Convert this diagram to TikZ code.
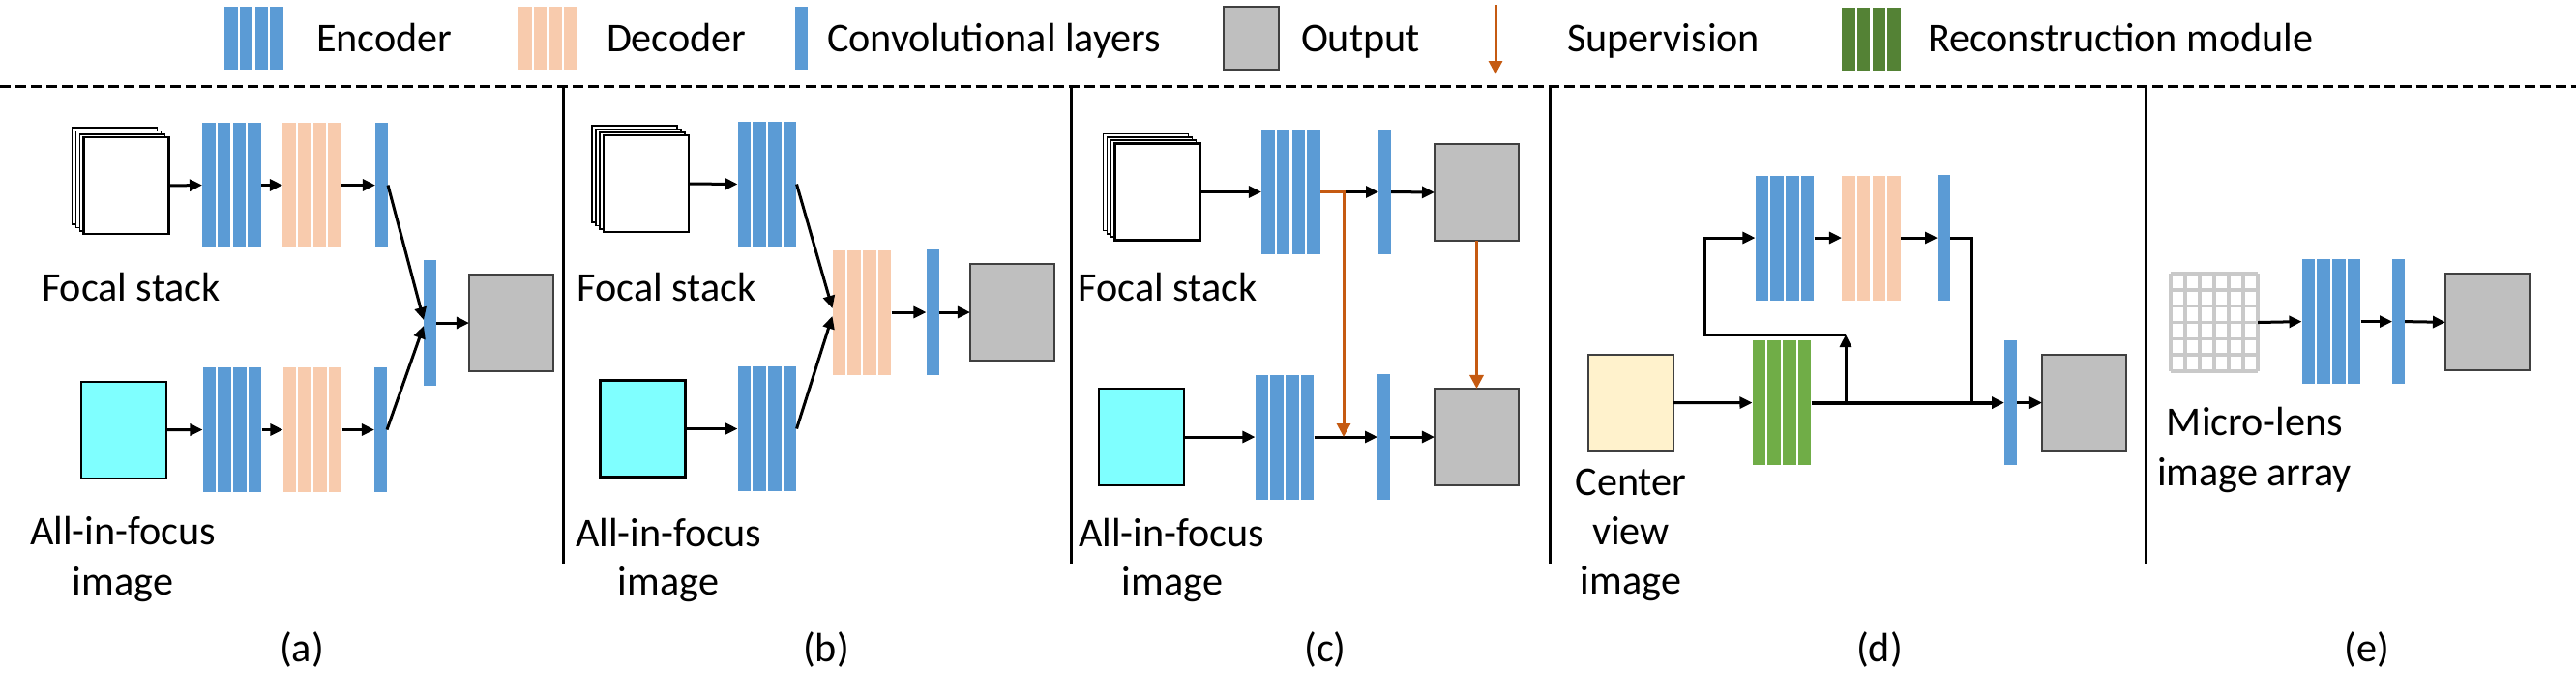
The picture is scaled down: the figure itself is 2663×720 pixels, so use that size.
\documentclass[tikz,border=0pt]{standalone}
\usepackage{fontspec}
\setmainfont{Carlito}
\usetikzlibrary{arrows.meta}
\definecolor{encb}{HTML}{5B9BD5}
\definecolor{decp}{HTML}{F8CBAD}
\definecolor{greend}{HTML}{548235}
\definecolor{greenb}{HTML}{70AD47}
\definecolor{outg}{HTML}{BFBFBF}
\definecolor{outd}{HTML}{404040}
\definecolor{cyanf}{HTML}{7FFFFF}
\definecolor{beigef}{HTML}{FFF2CC}
\definecolor{suporange}{HTML}{C55A11}
\definecolor{gridg}{HTML}{C9C9C9}
\tikzset{
  box/.style={inner sep=0pt, outer sep=0pt},
  conv/.style={box, fill=encb, minimum width=0.13cm, minimum height=1.29cm},
  outbox/.style={box, fill=outg, draw=outd, line width=0.6pt, minimum width=0.87cm, minimum height=1.0cm},
  sheet/.style={box, fill=white, draw=black, line width=0.6pt, minimum width=0.88cm, minimum height=1.0cm},
  cyanbox/.style={box, fill=cyanf, draw=black, line width=0.6pt, minimum width=0.88cm, minimum height=1.0cm},
  beigebox/.style={box, fill=beigef, draw=outd, line width=0.6pt, minimum width=0.88cm, minimum height=1.0cm},
  arr/.style={-{Triangle[length=0.13cm,width=0.12cm]}, line width=0.03cm, black},
  suparr/.style={-{Triangle[length=0.14cm,width=0.14cm]}, line width=0.03cm, suporange},
  plainline/.style={line width=0.03cm, black},
  divider/.style={line width=0.03cm, black},
  txt/.style={inner sep=0pt, outer sep=0pt, font=\fontsize{12pt}{14pt}\selectfont},
}
\newcommand\mymod[5]{%
  \node[box, minimum width=0.61cm, minimum height=#5*0.01cm] (#1) at (#2,#3) {};
  \foreach \k in {0,1,2,3}{\fill[#4] ({#2-30.5+\k*15.8},{#3-#5/2}) rectangle ++(13.5,#5);}
}
\newcommand\mystack[3]{%
  \foreach \k in {3,2,1}{\filldraw[fill=white,draw=black,line width=0.5pt] ({#2-44-4*\k},{#3-50-3.3*\k}) rectangle ++(88,100);}
  \node[sheet] (#1) at (#2,#3) {};
}
\begin{document}
\begin{tikzpicture}[x=0.01cm,y=-0.01cm]
\useasboundingbox (0,0) rectangle (2663,720);
% ---------- legend ----------
\mymod{le}{262.5}{39.5}{encb}{65}
\node[txt, anchor=base west] (lte) at (327,53) {Encoder};
\mymod{ld}{566.5}{39.5}{decp}{65}
\node[txt, anchor=base west] (ltd) at (627,53) {Decoder};
\node[conv, minimum height=0.65cm] (lc) at (828,39.5) {};
\node[txt, anchor=base west] (ltc) at (855,53) {Convolutional layers};
\node[outbox, minimum width=0.57cm, minimum height=0.65cm] (lo) at (1293.5,39.5) {};
\node[txt, anchor=base west] (lto) at (1345,53) {Output};
\coordinate (ls1) at (1546,5);
\coordinate (ls2) at (1546,77);
\draw[suparr] (ls1) -- (ls2);
\node[txt, anchor=base west] (lts) at (1620,53) {Supervision};
\mymod{lg}{1934.5}{40}{greend}{65}
\node[txt, anchor=base west] (ltg) at (1993,53) {Reconstruction module};
% ---------- separators ----------
\draw[line width=0.03cm, dash pattern=on 0.11cm off 0.05cm] (0,89) -- (2663,89);
\draw[divider] (582,89) -- (582,583);
\draw[divider] (1107,89) -- (1107,583);
\draw[divider] (1602,89) -- (1602,583);
\draw[divider] (2218,89) -- (2218,583);
% ---------- (a) ----------
\mystack{as}{130.5}{192}
\mymod{ae1}{239.5}{191.5}{encb}{129}
\mymod{ad1}{322.5}{191.5}{decp}{129}
\node[conv] (ac1) at (394.5,191.5) {};
\node[conv] (acm) at (444.5,334) {};
\node[outbox] (ao) at (528.5,334) {};
\node[cyanbox] (ai) at (128,444.6) {};
\mymod{ae2}{240}{444.5}{encb}{129}
\mymod{ad2}{323}{444.5}{decp}{129}
\node[conv] (ac2) at (393.5,444.5) {};
\draw[arr] (as.east) -- (ae1.west);
\draw[arr] (ae1.east) -- (ad1.west);
\draw[arr] (ad1.east) -- (ac1.west);
\draw[arr] (ai.east) -- (ae2.west);
\draw[arr] (ae2.east) -- (ad2.west);
\draw[arr] (ad2.east) -- (ac2.west);
\draw[arr] (ac1.east) -- ([yshift=0.03cm]acm.west);
\draw[arr] (ac2.east) -- ([yshift=-0.03cm]acm.west);
\draw[arr] (acm.east) -- (ao.west);
\node[txt, anchor=base] (at1) at (135.5,311) {Focal stack};
\node[txt, anchor=base] (at2) at (127,563) {All-in-focus};
\node[txt, anchor=base] (at3) at (127,615) {image};
\node[txt, anchor=base] (al) at (312,684) {(a)};
% ---------- (b) ----------
\mystack{bs}{668}{190}
\mymod{be1}{793}{190.5}{encb}{129}
\node[cyanbox] (bi) at (664.5,443.5) {};
\mymod{be2}{793}{443.5}{encb}{129}
\mymod{bd}{891}{323}{decp}{129}
\node[conv] (bc) at (964,323) {};
\node[outbox] (bo) at (1046.5,323) {};
\draw[arr] (bs.east) -- (be1.west);
\draw[arr] (bi.east) -- (be2.west);
\draw[arr] (be1.east) -- ([yshift=0.04cm]bd.west);
\draw[arr] (be2.east) -- ([yshift=-0.04cm]bd.west);
\draw[arr] (bd.east) -- (bc.west);
\draw[arr] (bc.east) -- (bo.west);
\node[txt, anchor=base] (bt1) at (689,311) {Focal stack};
\node[txt, anchor=base] (bt2) at (691,565) {All-in-focus};
\node[txt, anchor=base] (bt3) at (691,615) {image};
\node[txt, anchor=base] (bl) at (854,684) {(b)};
% ---------- (c) ----------
\mystack{cs}{1196.5}{198.5}
\mymod{ce1}{1334.5}{198.5}{encb}{129}
\node[conv] (cc1) at (1431.5,198.5) {};
\node[outbox] (co1) at (1526.5,199) {};
\node[cyanbox] (ci) at (1180,452) {};
\mymod{ce2}{1328}{452}{encb}{129}
\node[conv] (cc2) at (1430.5,452) {};
\node[outbox] (co2) at (1526.5,452) {};
\coordinate (cj) at (1389,452);
\draw[arr] (cs.east) -- (ce1.west);
\draw[arr] (ce1.east) -- (cc1.west);
\draw[arr] (cc1.east) -- (co1.west);
\draw[arr] (ci.east) -- (ce2.west);
\draw[arr] (ce2.east) -- (cc2.west);
\draw[arr] (cc2.east) -- (co2.west);
\draw[suparr] (ce1.east) -| (cj);
\draw[suparr] (co1.south) -- (co2.north);
\node[txt, anchor=base] (ct1) at (1207,311) {Focal stack};
\node[txt, anchor=base] (ct2) at (1211,565) {All-in-focus};
\node[txt, anchor=base] (ct3) at (1212,615) {image};
\node[txt, anchor=base] (cl) at (1370,684) {(c)};
% ---------- (d) ----------
\mymod{de}{1845}{246}{encb}{129}
\mymod{dd}{1934.5}{246}{decp}{129}
\node[conv] (dc1) at (2009.5,246) {};
\node[beigebox] (di) at (1686,416.7) {};
\mymod{dg}{1842}{416.6}{greenb}{129}
\node[conv] (dc2) at (2078.5,416.6) {};
\node[outbox] (do) at (2154.5,416.6) {};
\coordinate (dj1) at (1908,416.6);
\coordinate (dj2) at (1908,346);
\coordinate (dj3) at (1762,346);
\coordinate (dj4) at (2038,416.6);
\draw[arr] (di.east) -- (dg.west);
\draw[arr, line width=0.04cm] (dg.east) -- (dc2.west);
\draw[arr] (dj1) -- (dj2);
\draw[arr] (dj2) -- (dj3) |- (de.west);
\draw[arr] (de.east) -- (dd.west);
\draw[arr] (dd.east) -- (dc1.west);
\draw[plainline] (dc1.east) -| (dj4);
\draw[arr] (dc2.east) -- (do.west);
\node[txt, anchor=base] (dt1) at (1686,512) {Center};
\node[txt, anchor=base] (dt2) at (1686,563) {view};
\node[txt, anchor=base] (dt3) at (1686,614) {image};
\node[txt, anchor=base] (dl) at (1943,684) {(d)};
% ---------- (e) ----------
\node[box, fill=white, minimum width=0.9cm, minimum height=1.01cm] (eg) at (2289,333.5) {};
\foreach \i in {0,...,6}{
  \draw[gridg, line width=0.035cm] ({2244+15*\i},283) -- ({2244+15*\i},384);
  \draw[gridg, line width=0.035cm] (2244,{283+16.83*\i}) -- (2334,{283+16.83*\i});
}
\mymod{ee}{2410}{332.6}{encb}{129}
\node[conv] (ec) at (2479.5,332.6) {};
\node[outbox] (eo) at (2571.5,333.3) {};
\draw[arr] (eg.east) -- (ee.west);
\draw[arr] (ee.east) -- (ec.west);
\draw[arr] (ec.east) -- (eo.west);
\node[txt, anchor=base] (et1) at (2331,450) {Micro-lens};
\node[txt, anchor=base] (et2) at (2330.5,502.5) {image array};
\node[txt, anchor=base] (el) at (2447,684) {(e)};
\end{tikzpicture}
\end{document}
